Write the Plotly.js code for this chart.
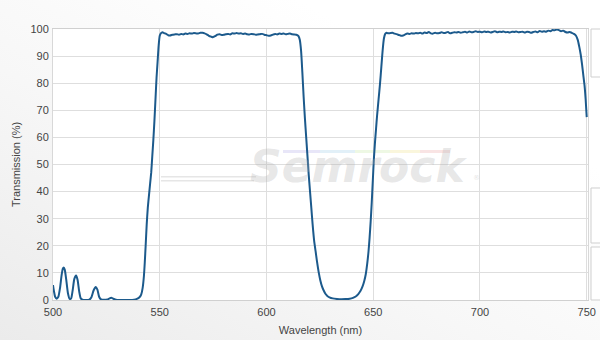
<!DOCTYPE html>
<html>
<head>
<meta charset="utf-8">
<script src="https://cdn.plot.ly/plotly-3.0.1.min.js"></script>
<style>
html,body{margin:0;padding:0;}
body{width:600px;height:340px;background:linear-gradient(to top right,#ebebeb 0%,#f7f7f7 40%,#ffffff 75%);}
#chart{width:600px;height:340px;}
</style>
</head>
<body>
<div id="chart"></div>
<script>
// Wavelength (nm)
const wavelength = [
500,500.5,501,501.7,502.5,503.3,504,504.6,505,505.5,506.2,507,507.8,508.5,509.2,510,510.8,511.5,512.3,513,513.8,515,517,518,519,520,520.8,521.6,522.5,524,525.5,526.5,527.3,528.2,529.5,531,535,538,539.3,540.5,541.3,542,542.6,543,543.4,543.9,544.4,545,545.5,546,546.5,547,547.5,548,548.5,549,549.5,550,550.5,551.3,552,553,554,554.8,556,557,558,559,560,561,562,563,564,565,566,567,568,569,570,571,572,573,574,575,576,577,578,579,580,581,582,583,584,585,586,587,588,589,590,591,592,593,594,595,596,597,598,599,600,601,602,603,604,605,606,607,608,609,610,611,612,613,614,615,615.6,616.2,616.8,617.4,618,618.6,619.2,619.8,620.4,621,621.6,622.3,623,623.6,624.4,625.2,626,626.8,627.6,628.5,629.5,631,633,635,637,639,640.5,641.8,643,644,645,645.8,646.5,647.2,647.8,648.3,648.8,649.3,649.8,650.3,650.8,651.3,651.8,652.5,653.2,653.8,654.4,655,655.6,656.3,657,658,659,660,661,662,663,664,665,666,667,668,669,670,671,672,673,674,675,676,677,678,679,680,681,682,683,684,685,686,687,688,689,690,691,692,693,694,695,696,697,698,699,700,701,702,703,704,705,706,707,708,709,710,711,712,713,714,715,716,717,718,719,720,721,722,723,724,725,726,727,728,729,730,731,732,733,734,735,736,737,738,739,740,741,742,743,744,745,745.8,746.5,747.2,747.8,748.4,749,749.5,750
];
// Transmission (%)
const transmission = [
5.5,3.0,1.2,0.5,1.2,4.5,9.0,11.6,12.0,11.2,7.5,2.5,0.4,0.6,3.5,7.8,9.0,7.5,3.0,0.6,0.1,0,0.1,1.0,3.5,4.8,3.8,1.2,0.2,0.05,0.2,0.6,0.8,0.5,0.1,0,0,0.1,0.4,1.0,2.0,4.5,9,14,20,28,34,39,43,47,53,59,66,74,82,88,94,97.5,98.4,98.8,98.5,98.2,97.7,97.6,97.9,98.0,98.1,97.9,98.2,98.0,98.3,98.2,98.4,98.3,98.5,98.4,98.3,98.6,98.6,98.4,98.0,97.5,97.2,97.0,97.4,97.9,98.1,97.8,97.9,98.1,98.2,98.0,98.4,98.3,98.5,98.3,98.4,98.2,98.3,98.1,98.0,98.2,98.1,97.9,98.0,98.1,98.2,97.9,97.7,97.5,97.6,97.9,98.2,98.0,98.3,98.2,98.3,98.1,98.2,98.3,98.1,98.0,97.9,97.4,96.0,92,84,75,67,60,53,46,40,34,28,22,18,14.5,10.5,7.3,5,3.5,2.3,1.5,1.0,0.6,0.4,0.3,0.35,0.5,0.8,1.3,2.2,3.3,5,7,9.5,13.5,18,23,29,36,44,52,58,63,68,74,80,86,92,96.5,98.2,98.6,98.4,98.5,98.6,98.3,98.1,97.8,97.5,97.6,98.0,98.3,98.2,98.4,98.3,98.5,98.4,98.6,98.3,98.7,98.5,98.9,98.4,98.3,98.6,98.4,98.5,98.8,98.5,98.6,98.9,98.4,98.6,98.8,98.7,98.9,98.6,98.8,99.0,98.7,99.1,98.8,98.9,99.2,98.9,99.0,98.8,99.1,98.9,99.0,98.7,98.9,99.2,98.8,99.0,98.9,99.1,98.8,98.9,98.7,99.0,98.9,99.1,98.8,98.9,99.0,98.7,99.0,98.9,98.6,98.9,99.1,98.8,99.3,99.0,99.2,99.0,99.4,99.2,99.6,99.5,99.8,99.6,99.2,99.4,98.9,98.7,98.9,98.6,98.2,97.5,96,93.5,90.5,87,83,79,74,67.5
];
const xTickVals = [500,550,600,650,700,750];
const yTickVals = [0,10,20,30,40,50,60,70,80,90,100];
const xTitle = 'Wavelength (nm)';
const yTitle = 'Transmission (%)';
const watermark = 'Semrock';

const font = {family:'"Liberation Sans", Arial, sans-serif', size:11, color:'#444'};

const trace = {
  x: wavelength, y: transmission, type:'scatter', mode:'lines',
  line:{color:'#1c5a8c', width:2, shape:'spline', smoothing:0.6},
  hoverinfo:'skip'
};

// pixel helpers for decorations (paper coords)
const L=53, R=588, T=29, B=300;
const px = v => (v-L)/(R-L);
const py = v => (B-v)/(B-T);

const shapes = [
  // right-side panel boxes (partially visible)
  {type:'rect', xref:'paper', yref:'paper', x0:px(591), x1:px(605), y0:py(77), y1:py(29), fillcolor:'#ffffff', line:{color:'#cfcfcf', width:1}, layer:'above'},
  {type:'rect', xref:'paper', yref:'paper', x0:px(591), x1:px(605), y0:py(243), y1:py(188), fillcolor:'#ffffff', line:{color:'#cfcfcf', width:1}, layer:'above'},
  {type:'rect', xref:'paper', yref:'paper', x0:px(591), x1:px(605), y0:py(300), y1:py(247), fillcolor:'#ffffff', line:{color:'#cfcfcf', width:1}, layer:'above'},
  // watermark swoosh lines
  {type:'line', xref:'paper', yref:'paper', x0:px(161), x1:px(256), y0:py(176.7), y1:py(176.7), line:{color:'#e6e6e6', width:1.5}, layer:'below'},
  {type:'line', xref:'paper', yref:'paper', x0:px(161), x1:px(254), y0:py(180.7), y1:py(180.7), line:{color:'#e6e6e6', width:1.5}, layer:'below'},
  // rainbow stripe
  {type:'rect', xref:'paper', yref:'paper', x0:px(283), x1:px(320), y0:py(153), y1:py(150), fillcolor:'#e8e6f8', line:{width:0}, layer:'below'},
  {type:'rect', xref:'paper', yref:'paper', x0:px(320), x1:px(355), y0:py(153), y1:py(150), fillcolor:'#e2f0f8', line:{width:0}, layer:'below'},
  {type:'rect', xref:'paper', yref:'paper', x0:px(355), x1:px(390), y0:py(153), y1:py(150), fillcolor:'#eef8e4', line:{width:0}, layer:'below'},
  {type:'rect', xref:'paper', yref:'paper', x0:px(390), x1:px(420), y0:py(153), y1:py(150), fillcolor:'#faf6dc', line:{width:0}, layer:'below'},
  {type:'rect', xref:'paper', yref:'paper', x0:px(420), x1:px(450), y0:py(153), y1:py(150), fillcolor:'#f9e4e4', line:{width:0}, layer:'below'}
];

const layout = {
  width:600, height:340,
  margin:{l:L, r:600-R, t:T, b:340-B, pad:0},
  paper_bgcolor:'rgba(0,0,0,0)', plot_bgcolor:'#ffffff',
  showlegend:false,
  font: font,
  xaxis:{
    range:[500,750.6], tickvals:xTickVals, ticktext:xTickVals.map(String),
    showgrid:true, gridcolor:'#dedede', gridwidth:1,
    showline:true, mirror:true, linecolor:'#d0d0d0', linewidth:1,
    ticks:'', ticklabelstandoff:2, zeroline:false, fixedrange:true,
    tickfont:{family:font.family, size:11, color:'#444'},
    title:{text:xTitle, standoff:9, font:{family:font.family, size:11, color:'#444'}}
  },
  yaxis:{
    range:[0,100], tickvals:yTickVals, ticktext:yTickVals.map(String),
    showgrid:true, gridcolor:'#dedede', gridwidth:1,
    showline:true, mirror:true, linecolor:'#d8d8d8', linewidth:1,
    ticks:'', ticklabelstandoff:1, zeroline:false, fixedrange:true,
    tickfont:{family:font.family, size:11, color:'#444'},
    title:{text:yTitle, standoff:7, font:{family:font.family, size:11, color:'#444'}}
  },
  shapes: shapes,
  annotations:[
    {text:'<b><i>'+watermark+'</i></b>', xref:'paper', yref:'paper', x:px(358), y:py(166), xanchor:'center', yanchor:'middle', showarrow:false,
     font:{family:'"DejaVu Sans", sans-serif', size:44, color:'rgba(175,175,175,0.3)'}},
    {text:'®', xref:'paper', yref:'paper', x:px(476), y:py(178), xanchor:'center', yanchor:'middle', showarrow:false,
     font:{family:'"DejaVu Sans", sans-serif', size:7, color:'rgba(175,175,175,0.35)'}}
  ]
};

Plotly.newPlot('chart', [trace], layout, {staticPlot:true, displayModeBar:false});
</script>
</body>
</html>
